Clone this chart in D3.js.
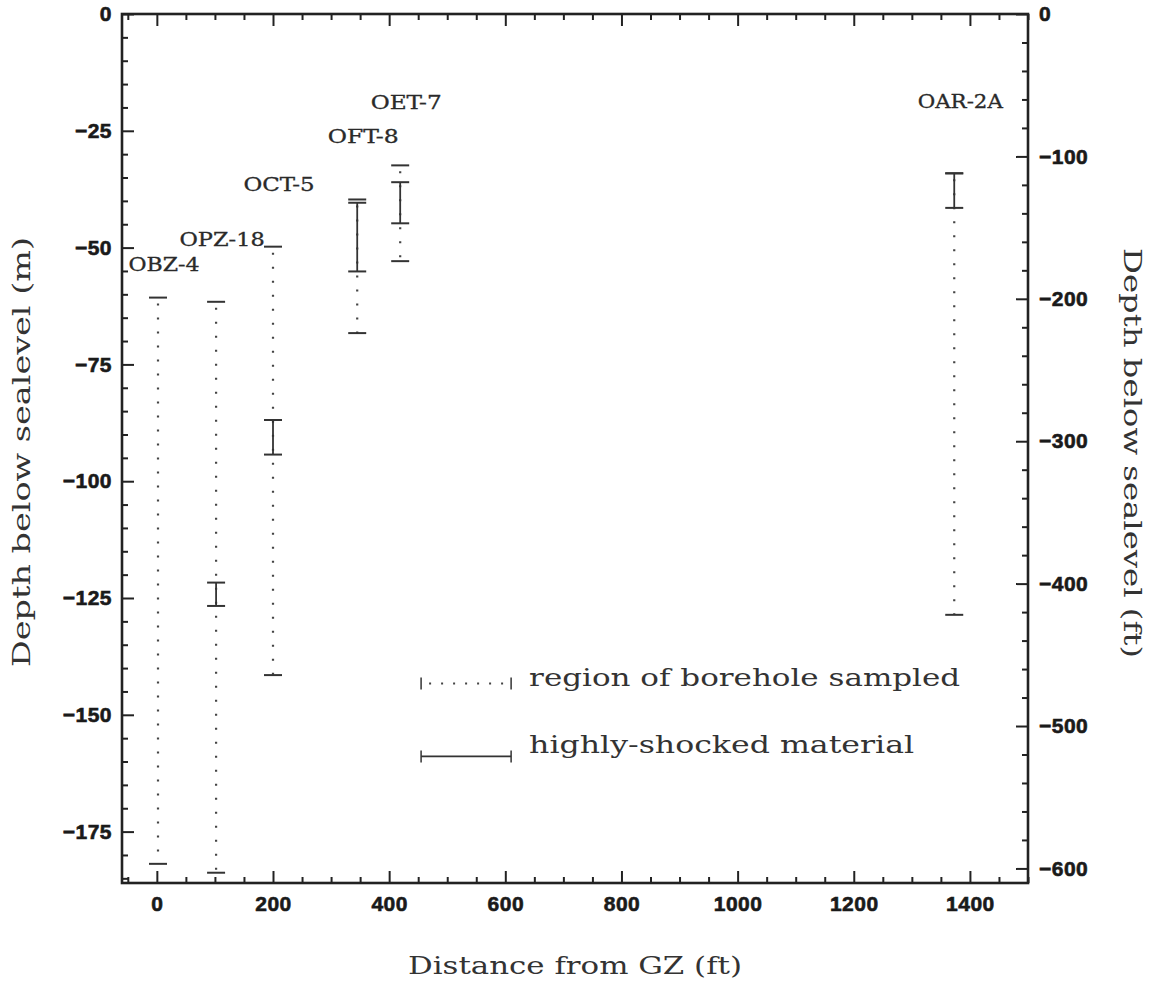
<!DOCTYPE html>
<html>
<head>
<meta charset="utf-8">
<script src="https://cdn.jsdelivr.net/npm/d3@7"></script>
<style>
  body { margin: 0; background: #fff; }
  .tick text { font-family: "Liberation Sans", Arial, sans-serif; font-weight: bold; font-size: 21px; fill: #1a1a1a; stroke: #1a1a1a; stroke-width: 0.6px; letter-spacing: 0.5px; }
  .tick line { stroke: #222; stroke-width: 2; }
  .title { font-family: "DejaVu Serif", serif; font-size: 24px; fill: #333; }
  .bh { font-family: "DejaVu Serif", serif; font-size: 18px; fill: #2a2a2a; stroke: #2a2a2a; stroke-width: 0.3px; }
</style>
</head>
<body>
<div id="chart"></div>
<script>
// boreholes, distance from GZ (ft), depths in m
var names = ["OBZ-4", "OPZ-18", "OCT-5", "OFT-8", "OET-7", "OAR-2A"];
var distances = [2, 102, 200, 345, 419, 1373];
var sampledTop = [-60.7, -61.6, -49.8, -39.7, -32.4, -34.1];
var sampledBottom = [-181.9, -183.8, -141.5, -68.3, -52.9, -128.6];
var shockedTop = [null, -121.7, -86.9, -40.4, -36.0, -34.1];
var shockedBottom = [null, -126.7, -94.3, -55.1, -44.8, -41.5];

var xTicks = [0, 200, 400, 600, 800, 1000, 1200, 1400];
var yTicksM = [0, -25, -50, -75, -100, -125, -150, -175];
var yTicksFt = [0, -100, -200, -300, -400, -500, -600];

var svgWidth = 1151;
var svgHeight = 985;
var margin = { top: 14, right: 123, bottom: 102, left: 122 };
var width = svgWidth - margin.left - margin.right;
var height = svgHeight - margin.top - margin.bottom;

var svg = d3.select("#chart").append("svg")
  .attr("width", svgWidth)
  .attr("height", svgHeight);

var chartGroup = svg.append("g")
  .attr("transform", `translate(${margin.left}, ${margin.top})`);

var x = d3.scaleLinear().domain([-60, 1500]).range([0, width]);
var y = d3.scaleLinear().domain([-186, 0]).range([height, 0]);
var yFt = d3.scaleLinear().domain([-186 / 0.3048, 0]).range([height, 0]);

var xMinor = d3.range(-50, 1501, 50).filter(d => d % 200 != 0);
var yMinor = d3.range(0, -186, -5).filter(d => d % 25 != 0);
var ftMinor = d3.range(0, -611, -20).filter(d => d % 100 != 0);

function noDomain(g) { g.select(".domain").remove(); }

// minor ticks
chartGroup.append("g").attr("transform", `translate(0,${height})`)
  .call(d3.axisBottom(x).tickValues(xMinor).tickSize(-6).tickFormat("")).call(noDomain);
chartGroup.append("g")
  .call(d3.axisTop(x).tickValues(xMinor).tickSize(-6).tickFormat("")).call(noDomain);
chartGroup.append("g")
  .call(d3.axisLeft(y).tickValues(yMinor).tickSize(-6).tickFormat("")).call(noDomain);
chartGroup.append("g").attr("transform", `translate(${width},0)`)
  .call(d3.axisRight(yFt).tickValues(ftMinor).tickSize(-6).tickFormat("")).call(noDomain);

// major ticks + labels
chartGroup.append("g").attr("transform", `translate(0,${height})`)
  .call(d3.axisBottom(x).tickValues(xTicks).tickSize(-12).tickPadding(13).tickFormat(d3.format("d"))).call(noDomain);
chartGroup.append("g")
  .call(d3.axisTop(x).tickValues(xTicks).tickSize(-12).tickFormat("")).call(noDomain);
chartGroup.append("g")
  .call(d3.axisLeft(y).tickValues(yTicksM).tickSize(-12).tickPadding(10)).call(noDomain);
chartGroup.append("g").attr("transform", `translate(${width},0)`)
  .call(d3.axisRight(yFt).tickValues(yTicksFt).tickSize(-12).tickPadding(11)).call(noDomain);

// frame
chartGroup.append("rect")
  .attr("width", width).attr("height", height)
  .attr("fill", "none").attr("stroke", "#222").attr("stroke-width", 2.6);

var data = names.map((n, i) => ({
  name: n, dist: distances[i],
  sTop: sampledTop[i], sBot: sampledBottom[i],
  hTop: shockedTop[i], hBot: shockedBottom[i]
}));

var capW = 9;
var ink = "#333";

// sampled region: dotted with caps
chartGroup.selectAll(".samp").data(data).enter().append("line")
  .attr("x1", d => x(d.dist)).attr("x2", d => x(d.dist))
  .attr("y1", d => y(d.sTop) + 6).attr("y2", d => y(d.sBot))
  .attr("stroke", "#444").attr("stroke-width", 2.2)
  .attr("stroke-dasharray", "2,12");

data.forEach(function(d) {
  [d.sTop, d.sBot].forEach(function(v) {
    chartGroup.append("line")
      .attr("x1", x(d.dist) - capW).attr("x2", x(d.dist) + capW)
      .attr("y1", y(v)).attr("y2", y(v))
      .attr("stroke", ink).attr("stroke-width", 2);
  });
  if (d.hTop != null) {
    chartGroup.append("line")
      .attr("x1", x(d.dist)).attr("x2", x(d.dist))
      .attr("y1", y(d.hTop)).attr("y2", y(d.hBot))
      .attr("stroke", ink).attr("stroke-width", 1.8);
    [d.hTop, d.hBot].forEach(function(v) {
      chartGroup.append("line")
        .attr("x1", x(d.dist) - capW).attr("x2", x(d.dist) + capW)
        .attr("y1", y(v)).attr("y2", y(v))
        .attr("stroke", ink).attr("stroke-width", 2);
    });
  }
});

// borehole names
var lift = { "OBZ-4": 27, "OAR-2A": 65 };
chartGroup.selectAll(".bh").data(data).enter().append("text")
  .attr("class", "bh")
  .attr("x", d => x(d.dist) + 6)
  .attr("y", d => y(d.sTop) - (lift[d.name] || 56))
  .attr("text-anchor", "middle")
  .attr("textLength", d => 14.2 * d.name.length)
  .attr("lengthAdjust", "spacingAndGlyphs")
  .text(d => d.name);

// legend
var lx0 = x(455), lx1 = x(610);
var ly0 = y(-143.3), ly1 = y(-158.9);
chartGroup.append("line")
  .attr("x1", lx0 + 8).attr("x2", lx1 - 4).attr("y1", ly0).attr("y2", ly0)
  .attr("stroke", "#444").attr("stroke-width", 2).attr("stroke-dasharray", "2,10");
chartGroup.append("line")
  .attr("x1", lx0).attr("x2", lx1).attr("y1", ly1).attr("y2", ly1)
  .attr("stroke", ink).attr("stroke-width", 1.8);
[[lx0, ly0], [lx1, ly0], [lx0, ly1], [lx1, ly1]].forEach(function(p) {
  chartGroup.append("line")
    .attr("x1", p[0]).attr("x2", p[0]).attr("y1", p[1] - 6).attr("y2", p[1] + 6)
    .attr("stroke", ink).attr("stroke-width", 1.5);
});
chartGroup.append("text").attr("class", "title")
  .attr("x", lx1 + 18).attr("y", ly0 + 2)
  .attr("textLength", 431).attr("lengthAdjust", "spacingAndGlyphs")
  .text("region of borehole sampled");
chartGroup.append("text").attr("class", "title")
  .attr("x", lx1 + 18).attr("y", ly1 - 3)
  .attr("textLength", 385).attr("lengthAdjust", "spacingAndGlyphs")
  .text("highly-shocked material");

// axis titles
svg.append("text").attr("class", "title")
  .attr("transform", "translate(30, 452) rotate(-90)")
  .attr("text-anchor", "middle")
  .attr("textLength", 430).attr("lengthAdjust", "spacingAndGlyphs")
  .text("Depth below sealevel (m)");

svg.append("text").attr("class", "title")
  .attr("transform", "translate(1124, 453) rotate(90)")
  .attr("text-anchor", "middle")
  .attr("textLength", 410).attr("lengthAdjust", "spacingAndGlyphs")
  .text("Depth below sealevel (ft)");

svg.append("text").attr("class", "title")
  .attr("x", 575).attr("y", 974)
  .attr("text-anchor", "middle")
  .attr("textLength", 334).attr("lengthAdjust", "spacingAndGlyphs")
  .text("Distance from GZ (ft)");
</script>
</body>
</html>
